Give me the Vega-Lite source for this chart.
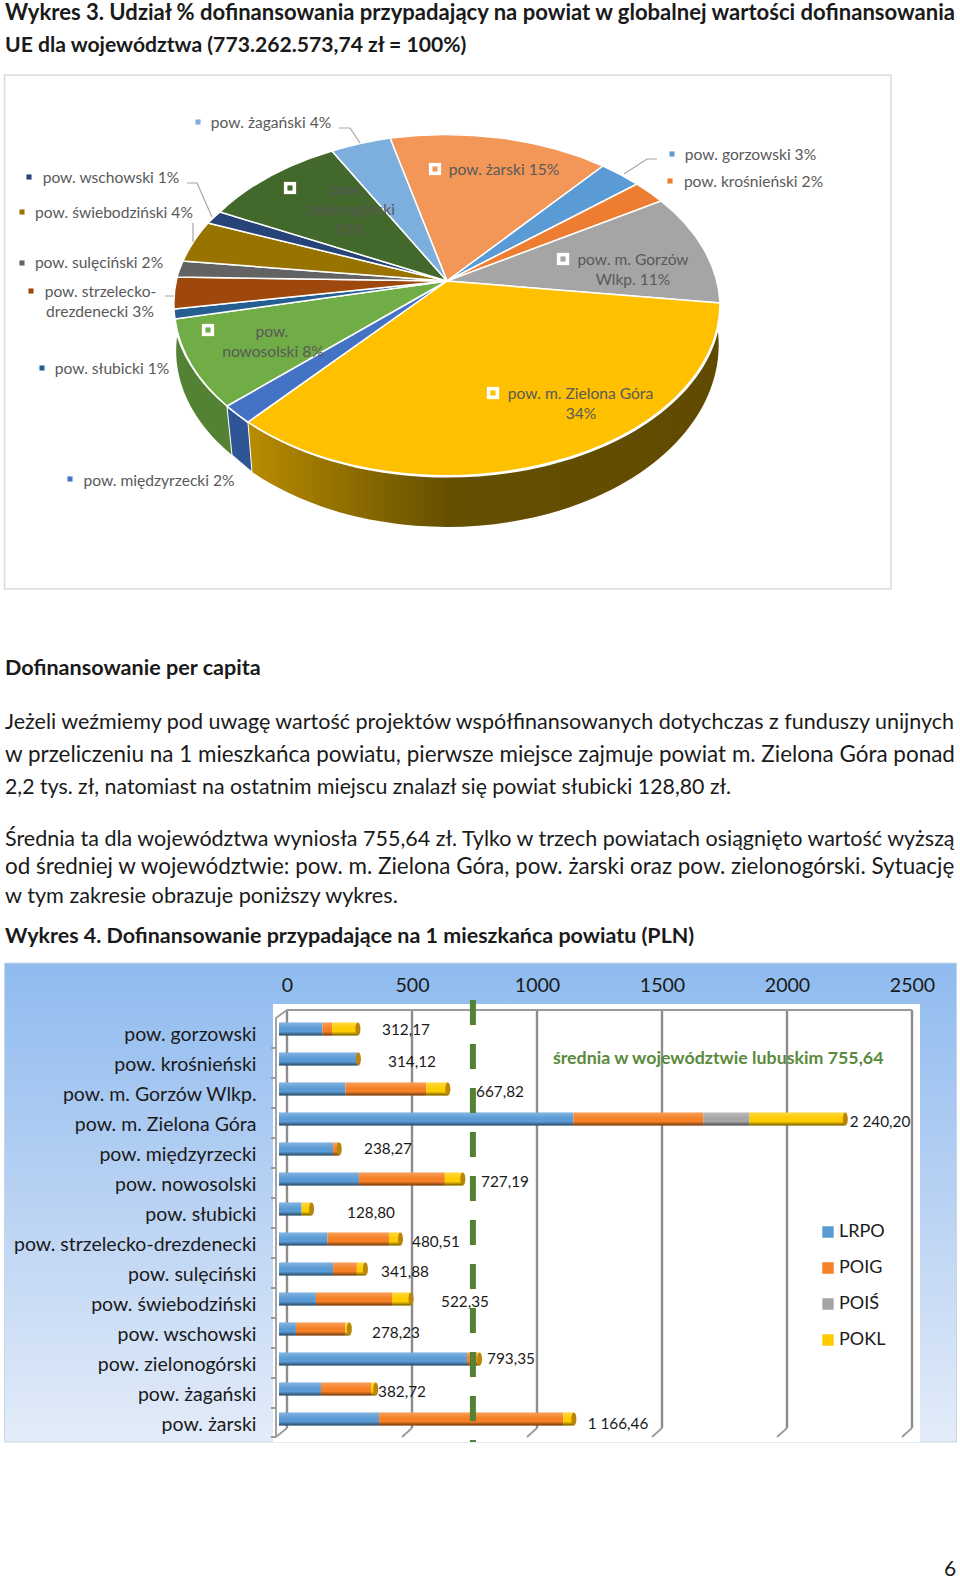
{
"$schema":"https://vega.github.io/schema/vega-lite/v6.json",
"width":960,"height":1580,"padding":0,"autosize":{"type":"none"},"background":"white",
"config":{"view":{"stroke":null},"font":"Lato","text":{"font":"Lato"}},
"datasets":{
"wycinki":[
{"nr":1,"powiat":"pow. żarski","udzial":15},{"nr":2,"powiat":"pow. gorzowski","udzial":3},{"nr":3,"powiat":"pow. krośnieński","udzial":2},{"nr":4,"powiat":"pow. m. Gorzów Wlkp.","udzial":11},{"nr":5,"powiat":"pow. m. Zielona Góra","udzial":34},{"nr":6,"powiat":"pow. międzyrzecki","udzial":2},{"nr":7,"powiat":"pow. nowosolski","udzial":8},{"nr":8,"powiat":"pow. słubicki","udzial":1},{"nr":9,"powiat":"pow. strzelecko-drezdenecki","udzial":3},{"nr":10,"powiat":"pow. sulęciński","udzial":2},{"nr":11,"powiat":"pow. świebodziński","udzial":4},{"nr":12,"powiat":"pow. wschowski","udzial":1},{"nr":13,"powiat":"pow. zielonogórski","udzial":10},{"nr":14,"powiat":"pow. żagański","udzial":4}],
"etykiety":[
{"nr":1,"tekst":"pow. żarski 15%"},{"nr":2,"tekst":"pow. gorzowski 3%"},{"nr":3,"tekst":"pow. krośnieński 2%"},{"nr":4,"tekst":"pow. m. Gorzów"},{"nr":5,"tekst":"Wlkp. 11%"},{"nr":6,"tekst":"pow. m. Zielona Góra"},{"nr":7,"tekst":"34%"},{"nr":8,"tekst":"pow. międzyrzecki 2%"},{"nr":9,"tekst":"pow."},{"nr":10,"tekst":"nowosolski 8%"},{"nr":11,"tekst":"pow. słubicki 1%"},{"nr":12,"tekst":"pow. strzelecko-"},{"nr":13,"tekst":"drezdenecki 3%"},{"nr":14,"tekst":"pow. sulęciński 2%"},{"nr":15,"tekst":"pow. świebodziński 4%"},{"nr":16,"tekst":"pow. wschowski 1%"},{"nr":17,"tekst":"pow."},{"nr":18,"tekst":"zielonogórski"},{"nr":19,"tekst":"10%"},{"nr":20,"tekst":"pow. żagański 4%"}],
"naglowki":[
{"nr":1,"tekst":"Wykres 3. Udział % dofinansowania przypadający na powiat w globalnej wartości dofinansowania"},
{"nr":2,"tekst":"UE dla województwa (773.262.573,74 zł = 100%)"},
{"nr":3,"tekst":"Dofinansowanie per capita"},
{"nr":4,"tekst":"Wykres 4. Dofinansowanie przypadające na 1 mieszkańca powiatu (PLN)"}],
"akapity":[
{"nr":1,"tekst":"Jeżeli weźmiemy pod uwagę wartość projektów współfinansowanych dotychczas z  funduszy unijnych"},
{"nr":2,"tekst":"w przeliczeniu na 1 mieszkańca powiatu, pierwsze miejsce zajmuje powiat m. Zielona Góra ponad"},
{"nr":3,"tekst":"2,2 tys. zł, natomiast na ostatnim miejscu znalazł się powiat słubicki 128,80 zł."},
{"nr":4,"tekst":"Średnia ta dla województwa wyniosła 755,64 zł. Tylko w trzech powiatach osiągnięto wartość wyższą"},
{"nr":5,"tekst":"od średniej w województwie: pow. m. Zielona Góra, pow. żarski oraz pow. zielonogórski. Sytuację"},
{"nr":6,"tekst":"w  tym zakresie obrazuje poniższy wykres."},
{"nr":7,"tekst":"6"}],
"slupki":[
{"powiat":"pow. gorzowski","seria":"LRPO","kol":1,"pln":172},{"powiat":"pow. gorzowski","seria":"POIG","kol":2,"pln":38},{"powiat":"pow. gorzowski","seria":"POKL","kol":4,"pln":102.17},
{"powiat":"pow. krośnieński","seria":"LRPO","kol":1,"pln":309},{"powiat":"pow. krośnieński","seria":"POIG","kol":2,"pln":3},{"powiat":"pow. krośnieński","seria":"POKL","kol":4,"pln":2.12},
{"powiat":"pow. m. Gorzów Wlkp.","seria":"LRPO","kol":1,"pln":263},{"powiat":"pow. m. Gorzów Wlkp.","seria":"POIG","kol":2,"pln":320},{"powiat":"pow. m. Gorzów Wlkp.","seria":"POKL","kol":4,"pln":84.82},
{"powiat":"pow. m. Zielona Góra","seria":"LRPO","kol":1,"pln":1164},{"powiat":"pow. m. Zielona Góra","seria":"POIG","kol":2,"pln":514},{"powiat":"pow. m. Zielona Góra","seria":"POIŚ","kol":3,"pln":183},{"powiat":"pow. m. Zielona Góra","seria":"POKL","kol":4,"pln":379.2},
{"powiat":"pow. międzyrzecki","seria":"LRPO","kol":1,"pln":214},{"powiat":"pow. międzyrzecki","seria":"POIG","kol":2,"pln":24.27},
{"powiat":"pow. nowosolski","seria":"LRPO","kol":1,"pln":316},{"powiat":"pow. nowosolski","seria":"POIG","kol":2,"pln":340},{"powiat":"pow. nowosolski","seria":"POKL","kol":4,"pln":71.19},
{"powiat":"pow. słubicki","seria":"LRPO","kol":1,"pln":89.4},{"powiat":"pow. słubicki","seria":"POKL","kol":4,"pln":39.4},
{"powiat":"pow. strzelecko-drezdenecki","seria":"LRPO","kol":1,"pln":192},{"powiat":"pow. strzelecko-drezdenecki","seria":"POIG","kol":2,"pln":243},{"powiat":"pow. strzelecko-drezdenecki","seria":"POKL","kol":4,"pln":45.51},
{"powiat":"pow. sulęciński","seria":"LRPO","kol":1,"pln":214},{"powiat":"pow. sulęciński","seria":"POIG","kol":2,"pln":94},{"powiat":"pow. sulęciński","seria":"POKL","kol":4,"pln":33.88},
{"powiat":"pow. świebodziński","seria":"LRPO","kol":1,"pln":146},{"powiat":"pow. świebodziński","seria":"POIG","kol":2,"pln":301},{"powiat":"pow. świebodziński","seria":"POKL","kol":4,"pln":75.35},
{"powiat":"pow. wschowski","seria":"LRPO","kol":1,"pln":67},{"powiat":"pow. wschowski","seria":"POIG","kol":2,"pln":195},{"powiat":"pow. wschowski","seria":"POKL","kol":4,"pln":16.23},
{"powiat":"pow. zielonogórski","seria":"LRPO","kol":1,"pln":744},{"powiat":"pow. zielonogórski","seria":"POIG","kol":2,"pln":40},{"powiat":"pow. zielonogórski","seria":"POKL","kol":4,"pln":9.35},
{"powiat":"pow. żagański","seria":"LRPO","kol":1,"pln":166},{"powiat":"pow. żagański","seria":"POIG","kol":2,"pln":198},{"powiat":"pow. żagański","seria":"POKL","kol":4,"pln":18.72},
{"powiat":"pow. żarski","seria":"LRPO","kol":1,"pln":396},{"powiat":"pow. żarski","seria":"POIG","kol":2,"pln":728},{"powiat":"pow. żarski","seria":"POKL","kol":4,"pln":42.46}],
"sumy":[
{"nr":1,"powiat":"pow. gorzowski","suma":312.17,"opis":"312,17"},{"nr":2,"powiat":"pow. krośnieński","suma":314.12,"opis":"314,12"},{"nr":3,"powiat":"pow. m. Gorzów Wlkp.","suma":667.82,"opis":"667,82"},{"nr":4,"powiat":"pow. m. Zielona Góra","suma":2240.2,"opis":"2 240,20"},{"nr":5,"powiat":"pow. międzyrzecki","suma":238.27,"opis":"238,27"},{"nr":6,"powiat":"pow. nowosolski","suma":727.19,"opis":"727,19"},{"nr":7,"powiat":"pow. słubicki","suma":128.8,"opis":"128,80"},{"nr":8,"powiat":"pow. strzelecko-drezdenecki","suma":480.51,"opis":"480,51"},{"nr":9,"powiat":"pow. sulęciński","suma":341.88,"opis":"341,88"},{"nr":10,"powiat":"pow. świebodziński","suma":522.35,"opis":"522,35"},{"nr":11,"powiat":"pow. wschowski","suma":278.23,"opis":"278,23"},{"nr":12,"powiat":"pow. zielonogórski","suma":793.35,"opis":"793,35"},{"nr":13,"powiat":"pow. żagański","suma":382.72,"opis":"382,72"},{"nr":14,"powiat":"pow. żarski","suma":1166.46,"opis":"1 166,46"}],
"siatka":[{"v":0},{"v":500},{"v":1000},{"v":1500},{"v":2000},{"v":2500}],
"srednia":[{"srednia":755.64,"opis":"średnia w województwie  lubuskim 755,64"}]
},
"resolve":{"scale":{"x":"independent","y":"independent","color":"independent","shape":"independent","size":"independent"},"axis":{"x":"independent","y":"independent"},"legend":{"color":"independent"}},
"layer":[
{"data":{"values":[{}]},"mark":{"type":"rect","fill":"white","stroke":"#dcdcdc","strokeWidth":1.5},"encoding":{"x":{"value":4.5},"x2":{"value":891},"y":{"value":75},"y2":{"value":589}}},
{"data":{"values":[{}]},"mark":{"type":"rect","fill":{"gradient":"linear","x1":0,"x2":0,"y1":0,"y2":1,"stops":[{"offset":0,"color":"#8fbbef"},{"offset":0.5,"color":"#b9d2f3"},{"offset":1,"color":"#e3ecf9"}]},"stroke":"#c9d6e6","strokeWidth":1},"encoding":{"x":{"value":4.5},"x2":{"value":956.5},"y":{"value":963},"y2":{"value":1442}}},
{"data":{"values":[{}]},"mark":{"type":"rect","fill":"white"},"encoding":{"x":{"value":273},"x2":{"value":920},"y":{"value":1004},"y2":{"value":1442}}},

{"data":{"values":[{}]},"mark":{"type":"point","filled":true,"opacity":1,"size":4,"strokeWidth":0,"shape":"M248,423 A273.5,172,0,0,0,718,332 A272,182,0,0,1,252,472 Z","fill":{"gradient":"linear","x1":0,"x2":1,"y1":0,"y2":0,"stops":[{"offset":0,"color":"#b98c00"},{"offset":0.42,"color":"#665000"},{"offset":1,"color":"#5f4a00"}]}},"encoding":{"x":{"value":0},"y":{"value":0}}},
{"data":{"values":[{}]},"mark":{"type":"point","filled":true,"opacity":1,"size":4,"strokeWidth":0,"shape":"M177,337 A273.5,172,0,0,0,227,407 L232,455 A272,172,0,0,1,177,337 Z","fill":"#548235"},"encoding":{"x":{"value":0},"y":{"value":0}}},
{"data":{"values":[{}]},"mark":{"type":"point","filled":true,"opacity":1,"size":4,"stroke":"white","strokeWidth":1,"shape":"M227,407 L248,423 L252,472 L232,455 Z","fill":"#2f5597"},"encoding":{"x":{"value":0},"y":{"value":0}}},

{"data":{"name":"wycinki"},"mark":{"type":"point","filled":true,"opacity":1,"size":4,"stroke":"white","strokeWidth":1.5},
"encoding":{"x":{"value":0},"y":{"value":0},
"shape":{"field":"powiat","type":"nominal","legend":null,"scale":{"domain":["pow. żarski","pow. gorzowski","pow. krośnieński","pow. m. Gorzów Wlkp.","pow. m. Zielona Góra","pow. międzyrzecki","pow. nowosolski","pow. słubicki","pow. strzelecko-drezdenecki","pow. sulęciński","pow. świebodziński","pow. wschowski","pow. zielonogórski","pow. żagański"],
"range":["M447,281 L390,138 A273.5,172,0,0,1,603,166 Z","M447,281 L603,166 A273.5,172,0,0,1,637,184 Z","M447,281 L637,184 A273.5,172,0,0,1,661,201 Z","M447,281 L661,201 A273.5,172,0,0,1,720,303 Z","M447,281 L720,303 A273.5,172,0,0,1,248,422 Z","M447,281 L248,422 A273.5,172,0,0,1,227,406 Z","M447,281 L227,406 A273.5,172,0,0,1,175,319 Z","M447,281 L175,319 A273.5,172,0,0,1,174,309 Z","M447,281 L174,309 A273.5,172,0,0,1,177,277 Z","M447,281 L177,277 A273.5,172,0,0,1,183,261 Z","M447,281 L183,261 A273.5,172,0,0,1,208,223 Z","M447,281 L208,223 A273.5,172,0,0,1,220,212 Z","M447,281 L220,212 A273.5,172,0,0,1,332,151 Z","M447,281 L332,151 A273.5,172,0,0,1,390,138 Z"]}},
"color":{"field":"powiat","type":"nominal","legend":null,"scale":{"domain":["pow. żarski","pow. gorzowski","pow. krośnieński","pow. m. Gorzów Wlkp.","pow. m. Zielona Góra","pow. międzyrzecki","pow. nowosolski","pow. słubicki","pow. strzelecko-drezdenecki","pow. sulęciński","pow. świebodziński","pow. wschowski","pow. zielonogórski","pow. żagański"],"range":["#f29758","#5b9bd5","#ed7d31","#a5a5a5","#ffc000","#4472c4","#70ad47","#255e91","#9e480e","#636363","#997300","#264478","#43682b","#7cafdd"]}}}},

{"data":{"values":[{}]},"mark":{"type":"point","filled":false,"opacity":1,"size":4,"stroke":"#a6a6a6","strokeWidth":1.2,"fill":"transparent","shape":"M339,128 L350,128 L360,143 M187,183 L197,183 L212,217 M193,223 L193,242 M165,296 L174,296 M657,159 L647,159 L624,174"},"encoding":{"x":{"value":0},"y":{"value":0}}},

{"data":{"name":"wycinki"},"transform":[{"filter":{"field":"nr","oneOf":[1,4,5,7,13]}}],"mark":{"type":"square","size":150,"opacity":1,"color":"white"},
"encoding":{"x":{"field":"nr","type":"quantitative","axis":null,"scale":{"domain":[1,4,5,7,13],"range":[435,563,493,208,290]}},"y":{"field":"nr","type":"quantitative","axis":null,"scale":{"domain":[1,4,5,7,13],"range":[169,259,393,330,188]}}}},
{"data":{"name":"wycinki"},"mark":{"type":"square","size":26,"opacity":1},
"encoding":{"x":{"field":"nr","type":"quantitative","axis":null,"scale":{"domain":[1,2,3,4,5,6,7,8,9,10,11,12,13,14],"range":[435,672,670,563,493,70,208,42,31,22,22,29,290,198]}},"y":{"field":"nr","type":"quantitative","axis":null,"scale":{"domain":[1,2,3,4,5,6,7,8,9,10,11,12,13,14],"range":[169,154,181,259,393,479,330,368,291,263,212,177,188,122]}},
"color":{"field":"powiat","type":"nominal","legend":null,"scale":{"domain":["pow. żarski","pow. gorzowski","pow. krośnieński","pow. m. Gorzów Wlkp.","pow. m. Zielona Góra","pow. międzyrzecki","pow. nowosolski","pow. słubicki","pow. strzelecko-drezdenecki","pow. sulęciński","pow. świebodziński","pow. wschowski","pow. zielonogórski","pow. żagański"],"range":["#f29758","#5b9bd5","#ed7d31","#a5a5a5","#ffc000","#4472c4","#70ad47","#255e91","#9e480e","#636363","#997300","#264478","#43682b","#7cafdd"]}}}},

{"data":{"name":"etykiety"},"mark":{"type":"text","fontSize":15.6,"color":"#595959","align":"center","baseline":"middle","font":"Lato"},
"encoding":{"text":{"field":"tekst"},
"x":{"field":"nr","type":"quantitative","axis":null,"scale":{"domain":[1,2,3,4,5,6,7,8,9,10,11,12,13,14,15,16,17,18,19,20],"range":[504,750.5,753.5,633,633,580.5,581,159,272,273,112,100.5,100,99,114,111,347,350,350,271]}},
"y":{"field":"nr","type":"quantitative","axis":null,"scale":{"domain":[1,2,3,4,5,6,7,8,9,10,11,12,13,14,15,16,17,18,19,20],"range":[170,155,181.5,260,280,394,414,481,332,352,369,292,312,263,213,178,190,210,230,122.5]}}}},

{"data":{"name":"naglowki"},"mark":{"type":"text","fontWeight":"bold","color":"#1a1a1a","align":"left","baseline":"middle","font":"Lato"},
"encoding":{"text":{"field":"tekst"},"x":{"value":5},
"size":{"field":"nr","type":"quantitative","legend":null,"scale":{"domain":[1,2,3,4],"range":[22.07,21.15,21.6,21.47]}},
"y":{"field":"nr","type":"quantitative","axis":null,"scale":{"domain":[1,2,3,4],"range":[13,46,669,937]}}}},
{"data":{"name":"akapity"},"mark":{"type":"text","color":"#1a1a1a","align":"left","baseline":"middle","font":"Lato"},
"encoding":{"text":{"field":"tekst"},
"size":{"field":"nr","type":"quantitative","legend":null,"scale":{"domain":[1,2,3,4,5,6,7],"range":[21.5,22.45,21.3,21.5,22.45,21.7,21]}},
"x":{"field":"nr","type":"quantitative","axis":null,"scale":{"domain":[1,2,3,4,5,6,7],"range":[5,5,5,5,5,5,944]}},
"y":{"field":"nr","type":"quantitative","axis":null,"scale":{"domain":[1,2,3,4,5,6,7],"range":[723,755,788,840,867,896,1570]}}}},

{"data":{"name":"siatka"},"mark":{"type":"rule","stroke":"#8c8c8c","strokeWidth":2.4},
"encoding":{"x":{"field":"v","type":"quantitative","scale":{"domain":[0,2500],"range":[287,912]},
"axis":{"orient":"top","offset":-985,"zindex":1,"title":null,"grid":false,"ticks":false,"domain":false,"labelPadding":0,"labelBaseline":"middle","labelFontSize":19.6,"labelFont":"Lato","labelColor":"#1a1a1a","format":"d","values":[0,500,1000,1500,2000,2500],"labelFlush":false,"labelOverlap":false}},
"y":{"value":1010},"y2":{"value":1428}}},
{"data":{"values":[{}]},"mark":{"type":"point","filled":false,"opacity":1,"size":4,"stroke":"#9a9a9a","strokeWidth":1.8,"fill":"transparent","shape":"M287,1010 L912,1010 M287,1010 L276,1018 L276,1437 M287,1428 L276,1437 M412,1428 L402,1437 M537,1428 L527,1437 M662,1428 L652,1437 M787,1428 L777,1437 M912,1428 L902,1437 M271,1048 L276,1048 M271,1078 L276,1078 M271,1108 L276,1108 M271,1138 L276,1138 M271,1168 L276,1168 M271,1198 L276,1198 M271,1228 L276,1228 M271,1258 L276,1258 M271,1288 L276,1288 M271,1318 L276,1318 M271,1348 L276,1348 M271,1378 L276,1378 M271,1408 L276,1408 M271,1437 L276,1437"},"encoding":{"x":{"value":0},"y":{"value":0}}},

{"data":{"name":"slupki"},"mark":{"type":"bar","size":13},
"encoding":{"x":{"field":"pln","type":"quantitative","stack":"zero","axis":null,"scale":{"domain":[0,2500],"range":[279,911]}},
"y":{"field":"powiat","type":"nominal","sort":["pow. gorzowski","pow. krośnieński","pow. m. Gorzów Wlkp.","pow. m. Zielona Góra","pow. międzyrzecki","pow. nowosolski","pow. słubicki","pow. strzelecko-drezdenecki","pow. sulęciński","pow. świebodziński","pow. wschowski","pow. zielonogórski","pow. żagański","pow. żarski"],"scale":{"range":[1014,1434],"paddingInner":0,"paddingOuter":0},
"axis":{"orient":"left","offset":-256,"zindex":1,"title":null,"ticks":false,"domain":false,"grid":false,"labelPadding":0,"labelOffset":6,"labelFontSize":19.5,"labelFont":"Lato","labelColor":"#1a1a1a","labelLimit":300}},
"order":{"field":"kol","type":"quantitative"},
"color":{"field":"seria","type":"nominal","scale":{"domain":["LRPO","POIG","POIŚ","POKL"],"range":["#5b9bd5","#f58025","#a5a5a5","#ffcc00"]},
"legend":{"orient":"none","legendX":819,"legendY":1214,"title":null,"symbolType":"square","symbolSize":130,"labelFontSize":18,"labelFont":"Lato","labelColor":"#1a1a1a","clipHeight":36,"rowPadding":0,"labelOffset":2}}}},
{"data":{"name":"sumy"},"mark":{"type":"bar","size":13,"fill":{"gradient":"linear","x1":0,"x2":0,"y1":0,"y2":1,"stops":[{"offset":0,"color":"rgba(255,255,255,0.25)"},{"offset":0.45,"color":"rgba(255,255,255,0)"},{"offset":0.7,"color":"rgba(0,0,0,0)"},{"offset":1,"color":"rgba(0,0,0,0.55)"}]}},
"encoding":{"x":{"field":"suma","type":"quantitative","axis":null,"scale":{"domain":[0,2500],"range":[279,911]}},
"y":{"field":"powiat","type":"nominal","axis":null,"sort":{"field":"nr"},"scale":{"range":[1014,1434],"paddingInner":0,"paddingOuter":0}}}},
{"data":{"name":"sumy"},"mark":{"type":"point","filled":true,"opacity":1,"size":4,"strokeWidth":0,"fill":"#b8860b","shape":"M0,-6.5 A2.5,6.5,0,1,1,0,6.5 A2.5,6.5,0,1,1,0,-6.5 Z"},
"encoding":{"x":{"field":"suma","type":"quantitative","axis":null,"scale":{"domain":[0,2500],"range":[279,911]}},
"y":{"field":"powiat","type":"nominal","axis":null,"sort":{"field":"nr"},"scale":{"range":[1014,1434],"paddingInner":0,"paddingOuter":0}}}},

{"data":{"name":"srednia"},"mark":{"type":"rule","stroke":"#548235","strokeWidth":6,"strokeDash":[25,19],"strokeCap":"butt"},
"encoding":{"x":{"field":"srednia","type":"quantitative","axis":null,"scale":{"domain":[0,2500],"range":[284,909]}},"y":{"value":1000},"y2":{"value":1442}}},
{"data":{"name":"srednia"},"mark":{"type":"text","align":"left","baseline":"middle","fontSize":17.8,"fontWeight":"bold","color":"#5a8a3c","font":"Lato"},
"encoding":{"text":{"field":"opis"},"x":{"field":"srednia","type":"quantitative","axis":null,"scale":{"domain":[0,2500],"range":[364,989]}},"y":{"value":1059}}},

{"data":{"name":"sumy"},"mark":{"type":"text","align":"center","baseline":"middle","fontSize":15.3,"color":"#1a1a1a","font":"Lato"},
"encoding":{"text":{"field":"opis"},
"x":{"field":"nr","type":"quantitative","axis":null,"scale":{"domain":[1,2,3,4,5,6,7,8,9,10,11,12,13,14],"range":[406,412,500,880,388,505,371,436,405,465,396,511,402,618]}},
"y":{"field":"nr","type":"quantitative","axis":null,"scale":{"domain":[1,2,3,4,5,6,7,8,9,10,11,12,13,14],"range":[1030,1062,1092,1122,1149,1182,1213,1242,1272,1302,1333,1359,1392,1424]}}}}
]
}
